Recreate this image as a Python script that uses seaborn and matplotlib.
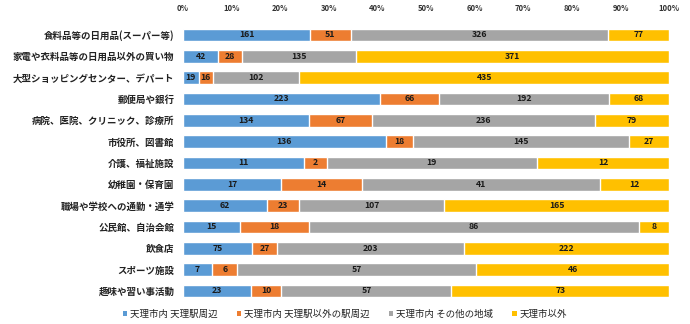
import numpy as np
import pandas as pd
import matplotlib
matplotlib.use("Agg")
import matplotlib.pyplot as plt
import seaborn as sns
from matplotlib.patches import Patch

sns.set_theme(style="white")
plt.rcParams["font.family"] = ["Noto Sans CJK JP", "DejaVu Sans"]

categories = [
    "食料品等の日用品(スーパー等)",
    "家電や衣料品等の日用品以外の買い物",
    "大型ショッピングセンター、デパート",
    "郵便局や銀行",
    "病院、医院、クリニック、診療所",
    "市役所、図書館",
    "介護、福祉施設",
    "幼稚園・保育園",
    "職場や学校への通勤・通学",
    "公民館、自治会館",
    "飲食店",
    "スポーツ施設",
    "趣味や習い事活動",
]
series_names = [
    "天理市内 天理駅周辺",
    "天理市内 天理駅以外の駅周辺",
    "天理市内 その他の地域",
    "天理市以外",
]
station_area = [161, 42, 19, 223, 134, 136, 11, 17, 62, 15, 75, 7, 23]
other_station = [51, 28, 16, 66, 67, 18, 2, 14, 23, 18, 27, 6, 10]
other_area = [326, 135, 102, 192, 236, 145, 19, 41, 107, 86, 203, 57, 57]
outside_city = [77, 371, 435, 68, 79, 27, 12, 12, 165, 8, 222, 46, 73]
tick_labels = ["0%", "10%", "20%", "30%", "40%", "50%", "60%", "70%", "80%", "90%", "100%"]

colors = ["#5B9BD5", "#ED7D31", "#A5A5A5", "#FFC000"]

counts = pd.DataFrame(
    {name: vals for name, vals in zip(series_names, [station_area, other_station, other_area, outside_city])},
    index=categories,
)
shares = counts.div(counts.sum(axis=1), axis=0) * 100
cum = shares.cumsum(axis=1)
start = cum - shares

fig = plt.figure(figsize=(6.9, 3.24), dpi=100)
ax = fig.add_axes([0.265, 0.069, 0.705, 0.856])

# stacked bars: draw cumulative totals back to front so each layer overlays the next
for i in reversed(range(len(series_names))):
    name = series_names[i]
    df = pd.DataFrame({"category": categories, "value": cum[name].values})
    sns.barplot(data=df, x="value", y="category", orient="h", color=colors[i],
                saturation=1, width=0.6, ax=ax)

# value labels at each segment centre
for i, name in enumerate(series_names):
    for j, cat in enumerate(categories):
        x = start.loc[cat, name] + shares.loc[cat, name] / 2
        ax.text(x, j, str(counts.loc[cat, name]), ha="center", va="center",
                fontsize=6.3, fontweight="bold", color="#1a1a1a", zorder=10)

ax.set_xlim(0, 100)
ax.set_ylim(len(categories) - 0.5, -0.5)
ax.set_xticks(np.arange(0, 101, 10))
ax.set_xticklabels(tick_labels, fontsize=5.5, fontweight="bold", color="#333333")
ax.xaxis.tick_top()
ax.tick_params(axis="x", length=0, pad=8)
ax.tick_params(axis="y", length=0, pad=6, labelsize=6.8, labelcolor="#222222")
for lbl in ax.get_yticklabels():
    lbl.set_fontweight("bold")
ax.set_xlabel("")
ax.set_ylabel("")
for s in ax.spines.values():
    s.set_visible(False)
ax.grid(False)

handles = [Patch(facecolor=c, edgecolor="none") for c in colors]
fig.legend(handles, series_names, loc="lower center", bbox_to_anchor=(0.5, -0.01),
           ncol=4, frameon=False, fontsize=6.8, handlelength=0.5, handleheight=0.5,
           columnspacing=2.0, handletextpad=0.3, labelcolor="#222222")

fig.savefig("out.png", dpi=100)
